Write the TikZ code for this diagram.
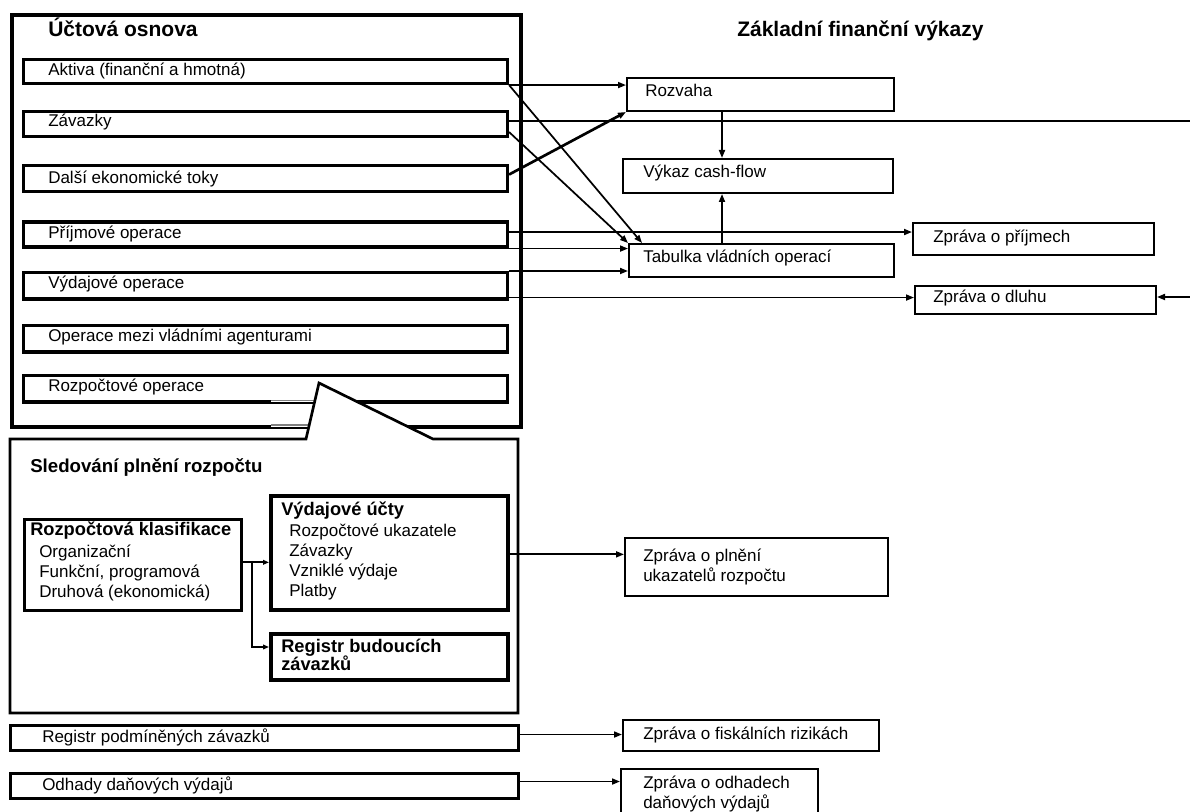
\documentclass[tikz,border=0pt]{standalone}
\usepackage{fontspec}
\setmainfont{Liberation Sans}
\usetikzlibrary{arrows.meta,calc}
\newcommand\mkbox[6]{\node[#6, anchor=north west, inner sep=0pt,
  minimum width={((#4)-(#2))*0.75pt}, minimum height={((#5)-(#3))*0.75pt}] (#1) at (#2,#3) {};}
\tikzset{
  mainb/.style={draw, line width=3.1pt},
  ib/.style={draw, line width=2.3pt},
  rbx/.style={draw, line width=1.5pt},
  vb/.style={draw, line width=2.8pt},
  kb/.style={draw, line width=2pt},
  ln/.style={line width=1.3pt},
  arr/.style={line width=1.3pt, -{Triangle[length=6pt,width=4.5pt]}},
  sarr/.style={line width=1.3pt, -{Triangle[length=4.5pt,width=3.5pt]}},
  t/.style={anchor=base west, inner sep=0pt, font=\fontsize{12.75}{15}\selectfont},
  tb/.style={anchor=base west, inner sep=0pt, font=\bfseries\fontsize{13.7}{16}\selectfont},
  ttl/.style={anchor=base west, inner sep=0pt, font=\bfseries\fontsize{15.75}{19}\selectfont},
}
\begin{document}
\begin{tikzpicture}[x=0.75pt,y=-0.75pt]
\useasboundingbox (0,0) rectangle (1190,812);
% main chart of accounts
\mkbox{main}{10}{13}{519}{425}{mainb}
\mkbox{akt}{22}{58}{506}{82}{ib}
\mkbox{zav}{22}{110}{506}{135}{ib}
\mkbox{dal}{22}{164}{506}{190}{ib}
\mkbox{pri}{22}{220.5}{506}{245.5}{ib}
\mkbox{vyd}{22}{271}{506}{297.5}{ib}
\mkbox{ope}{22}{324}{506}{350.5}{ib}
\mkbox{roz}{22}{374}{506}{400.5}{ib}
\node[ttl] (tmain) at (48,37) {Účtová osnova};
\node[t] (takt) at (48,76) {Aktiva (finanční a hmotná)};
\node[t] (tzav) at (48,127) {Závazky};
\node[t] (tdal) at (48,184) {Další ekonomické toky};
\node[t] (tpri) at (48,238.5) {Příjmové operace};
\node[t] (tvyd) at (48,289) {Výdajové operace};
\node[t] (tope) at (48,342) {Operace mezi vládními agenturami};
\node[t] (troz) at (48,392) {Rozpočtové operace};
% thin grey parts of lines next to callout
\draw[white, line width=3pt] (271,400.5) -- (316,400.5);
\draw[white, line width=3.6pt] (271,425) -- (312,425);
\draw[gray, line width=0.8pt] (271,400.5) -- (316,400.5);
\draw[gray, line width=0.8pt] (271,425) -- (312,425);
% callout: budget monitoring
\draw[line width=2pt, fill=white, line join=miter]
  (10,439) -- (306,439) -- (319,383) -- (433,439) -- (518,439) -- (518,713) -- (10,713) -- cycle;
\node[tb, font=\bfseries\fontsize{14}{17}\selectfont] (tsled) at (30,473) {Sledování plnění rozpočtu};
\mkbox{rk}{23}{518}{240}{609}{kb}
\mkbox{vu}{269}{494}{506}{608}{vb}
\mkbox{reg}{269}{632}{506}{678}{vb}
\node[tb] (trk) at (30,536) {Rozpočtová klasifikace};
\node[t] (trk1) at (39,558) {Organizační};
\node[t] (trk2) at (39,578) {Funkční, programová};
\node[t] (trk3) at (39,598) {Druhová (ekonomická)};
\node[tb] (tvu) at (281,516) {Výdajové účty};
\node[t] (tvu1) at (289,537) {Rozpočtové ukazatele};
\node[t] (tvu2) at (289,557) {Závazky};
\node[t] (tvu3) at (289,577) {Vzniklé výdaje};
\node[t] (tvu4) at (289,597) {Platby};
\node[tb] (treg1) at (281,653) {Registr budoucích};
\node[tb] (treg2) at (281,671) {závazků};
% bottom registers
\mkbox{rp}{9}{724}{517}{749}{ib}
\mkbox{od}{9}{772}{517}{797}{ib}
\node[t] (trp) at (42,743) {Registr podmíněných závazků};
\node[t] (tod) at (42,791) {Odhady daňových výdajů};
% reports
\node[ttl] (tzfv) at (737,37) {Základní finanční výkazy};
\mkbox{rozv}{626}{77}{893}{110}{rbx}
\mkbox{cf}{622}{158}{892}{192}{rbx}
\mkbox{tab}{628}{243}{893}{276}{rbx}
\mkbox{zpr}{912}{222}{1153}{254}{rbx}
\mkbox{dlu}{914}{285}{1155}{313}{rbx}
\mkbox{zpl}{624}{537}{887}{595}{rbx}
\mkbox{fis}{622}{719}{878}{750}{rbx}
\mkbox{odz}{620}{768}{817}{840}{rbx}
\node[t] (trozv) at (645,97) {Rozvaha};
\node[t] (tcf) at (643,178) {Výkaz cash-flow};
\node[t] (ttab) at (643,263) {Tabulka vládních operací};
\node[t] (tzpr) at (933,243) {Zpráva o příjmech};
\node[t] (tdlu) at (933,303) {Zpráva o dluhu};
\node[t] (tzpl1) at (643,562) {Zpráva o plnění};
\node[t] (tzpl2) at (643,582) {ukazatelů rozpočtu};
\node[t] (tfis) at (643,740) {Zpráva o fiskálních rizikách};
\node[t] (todz1) at (643,788) {Zpráva o odhadech};
\node[t] (todz2) at (643,808) {daňových výdajů};
% connectors
\draw[arr] (akt.south east) -- (rozv.west |- akt.south east);
\draw[arr] (akt.south east) -- ($(tab.north west)+(14,0)$);
\coordinate (edgeA) at (1195,121);
\draw[ln] (zav.east |- edgeA) -- (edgeA);
\draw[arr] ($(zav.east)+(0,8)$) -- (tab.north west);
\draw[arr, line width=2pt] ($(dal.east)+(0,-4)$) -- (rozv.south west);
\coordinate (p1) at ($(pri.east)+(0,-2.5)$);
\draw[arr] (p1) -- (zpr.west |- p1);
\draw[arr] (pri.south east) -- (tab.west |- pri.south east);
\draw[arr] (vyd.north east) -- (tab.west |- vyd.north east);
\coordinate (v1) at ($(vyd.south east)+(0,-3)$);
\draw[arr] (v1) -- (dlu.west |- v1);
\coordinate (edgeB) at (1195,297);
\draw[arr] (edgeB) -- (dlu.east |- edgeB);
\coordinate (vx) at (722,0);
\draw[arr] (rozv.south -| vx) -- (cf.north -| vx);
\draw[arr] (tab.north -| vx) -- (cf.south -| vx);
\coordinate (k1) at ($(rk.east)+(0,-2.5)$);
\draw[sarr] (k1) -- (vu.west |- k1);
\coordinate (k2) at (252,561);
\coordinate (k3) at (252,647);
\draw[sarr] (k2) |- (reg.west |- k3);
\coordinate (u1) at ($(vu.east)+(0,1.5)$);
\draw[arr] (u1) -- (zpl.west |- u1);
\coordinate (r1) at ($(rp.east)+(0,-3.5)$);
\draw[arr] (r1) -- (fis.west |- r1);
\coordinate (o1) at ($(od.east)+(0,-4.5)$);
\draw[arr] (o1) -- (odz.west |- o1);
\end{tikzpicture}
\end{document}
